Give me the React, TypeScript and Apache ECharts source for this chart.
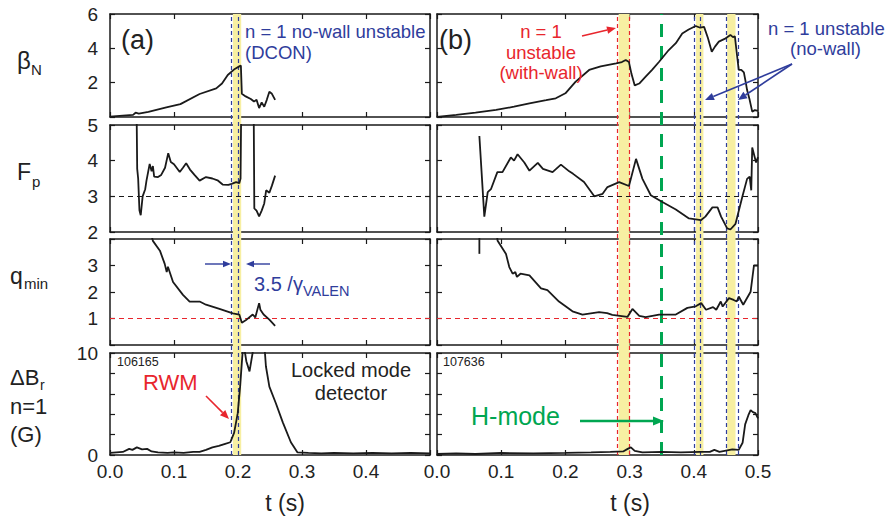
import React, { useEffect, useRef } from "react";
import * as echarts from "echarts";

// ---------- data (t in s, values) ----------
const betaA: number[][] = [[0,0.02],[0.02,0.08],[0.036,0.12],[0.04,0.25],[0.045,0.2],[0.06,0.3],[0.088,0.56],[0.11,0.75],[0.14,1.34],[0.166,1.67],[0.175,1.95],[0.184,2.45],[0.195,2.8],[0.202,2.95],[0.2045,3.0],[0.206,1.35],[0.212,1.2],[0.22,1.05],[0.225,0.9],[0.229,1.0],[0.233,0.52],[0.237,0.85],[0.241,0.6],[0.245,1.0],[0.249,1.47],[0.253,1.35],[0.258,1.0]];
const betaB: number[][] = [[0,0],[0.03,0.12],[0.06,0.25],[0.092,0.41],[0.12,0.6],[0.144,0.8],[0.17,0.98],[0.185,1.09],[0.2,1.38],[0.216,2.06],[0.237,2.74],[0.255,2.95],[0.279,3.13],[0.288,3.2],[0.294,3.32],[0.299,3.2],[0.303,2.5],[0.308,1.84],[0.315,1.95],[0.325,2.35],[0.335,2.75],[0.346,3.22],[0.361,3.9],[0.372,4.3],[0.382,4.87],[0.392,5.1],[0.403,5.3],[0.41,5.2],[0.416,5.25],[0.422,4.6],[0.428,3.8],[0.433,4.1],[0.439,4.39],[0.448,4.55],[0.457,4.78],[0.461,4.65],[0.464,4.7],[0.467,3.7],[0.47,2.74],[0.474,2.75],[0.478,2.6],[0.481,2.0],[0.483,1.57],[0.487,1.0],[0.491,0.31],[0.495,0.4],[0.5,0.35]];
const fpA: number[][] = [[0.0415,5.5],[0.0425,3.77],[0.044,3.5],[0.046,2.61],[0.048,2.47],[0.051,3.0],[0.055,3.2],[0.057,3.44],[0.062,3.91],[0.065,3.7],[0.067,3.85],[0.069,3.55],[0.075,3.54],[0.08,3.6],[0.086,3.8],[0.091,4.21],[0.095,3.96],[0.1,3.9],[0.109,3.68],[0.114,3.8],[0.119,3.93],[0.125,3.75],[0.132,3.6],[0.14,3.44],[0.15,3.54],[0.16,3.5],[0.168,3.45],[0.176,3.33],[0.185,3.32],[0.19,3.35],[0.197,3.4],[0.202,3.37],[0.204,3.5],[0.205,5.5],[0.2245,5.5],[0.2255,2.66],[0.229,2.6],[0.233,2.44],[0.237,2.6],[0.241,2.8],[0.244,3.17],[0.249,3.1],[0.253,3.3],[0.258,3.58]];
const fpB: number[][] = [[0.066,4.69],[0.0737,2.43],[0.079,3.12],[0.084,3.2],[0.094,3.68],[0.102,3.68],[0.115,4.09],[0.12,4.0],[0.1255,4.18],[0.136,3.95],[0.144,3.72],[0.157,3.94],[0.165,3.77],[0.18,3.68],[0.193,3.89],[0.206,3.7],[0.212,3.63],[0.229,3.4],[0.245,3.0],[0.258,3.07],[0.2655,3.26],[0.2837,3.4],[0.299,3.29],[0.31,4.05],[0.32,3.49],[0.333,3.03],[0.351,2.84],[0.372,2.63],[0.3925,2.38],[0.411,2.33],[0.418,2.43],[0.429,2.69],[0.437,2.69],[0.4425,2.43],[0.452,2.1],[0.457,2.07],[0.465,2.23],[0.4755,2.98],[0.483,3.49],[0.487,3.55],[0.4895,3.17],[0.491,4.37],[0.497,3.95],[0.5,4.1]];
const qA: number[][] = [[0.064,4.2],[0.067,3.93],[0.078,3.56],[0.0855,3.06],[0.0886,2.75],[0.0905,2.95],[0.0985,2.38],[0.114,1.89],[0.1244,1.64],[0.14,1.64],[0.15,1.52],[0.171,1.36],[0.192,1.19],[0.202,1.15],[0.206,0.84],[0.212,0.93],[0.223,1.15],[0.227,1.04],[0.233,1.58],[0.235,1.33],[0.24,1.15],[0.249,0.96],[0.258,0.72]];
const qBtick: number[][] = [[0.066,4.2],[0.066,3.44]];
const qB: number[][] = [[0.093,4.2],[0.0944,3.93],[0.1075,3.43],[0.1126,2.94],[0.1178,2.69],[0.122,2.75],[0.1245,2.57],[0.13,2.69],[0.144,2.63],[0.162,2.14],[0.172,2.07],[0.19,1.64],[0.211,1.27],[0.2266,1.15],[0.2525,1.24],[0.265,1.2],[0.273,1.14],[0.2966,1.06],[0.3044,1.36],[0.315,1.1],[0.325,1.05],[0.346,1.15],[0.372,1.15],[0.39,1.4],[0.403,1.46],[0.4115,1.58],[0.419,1.33],[0.43,1.43],[0.435,1.33],[0.442,1.64],[0.445,1.45],[0.4548,1.77],[0.462,1.7],[0.467,1.64],[0.47,1.83],[0.477,1.52],[0.4885,2.01],[0.4937,3.0],[0.5,3.0]];
const dbA: number[][] = [[0,0.2],[0.01,0.25],[0.02,0.3],[0.03,0.6],[0.035,0.5],[0.042,0.75],[0.05,0.55],[0.058,0.6],[0.065,0.35],[0.075,0.25],[0.09,0.2],[0.1,0.25],[0.115,0.2],[0.13,0.3],[0.14,0.3],[0.15,0.5],[0.16,0.75],[0.17,0.9],[0.18,1.1],[0.188,1.25],[0.194,2.2],[0.1996,4.1],[0.2033,6.7],[0.2065,9.5],[0.2085,11],[0.213,9.2],[0.218,8.2],[0.2255,11],[0.241,11],[0.2436,8.7],[0.249,6.7],[0.259,5.1],[0.27,3.2],[0.2826,1.25],[0.293,0.25],[0.31,0.2],[0.33,0.15],[0.35,0.2],[0.38,0.15],[0.41,0.2],[0.44,0.15],[0.47,0.2],[0.5,0.15]];
const dbB: number[][] = [[0,0.1],[0.03,0.15],[0.06,0.1],[0.1,0.2],[0.15,0.15],[0.2,0.2],[0.24,0.25],[0.27,0.3],[0.29,0.35],[0.297,0.6],[0.302,0.75],[0.308,0.4],[0.32,0.25],[0.35,0.3],[0.38,0.25],[0.41,0.3],[0.425,0.3],[0.432,0.5],[0.44,0.3],[0.452,0.45],[0.46,0.55],[0.47,0.5],[0.476,1.2],[0.48,3.0],[0.485,3.9],[0.4885,4.4],[0.492,4.2],[0.496,4.1],[0.5,3.6]];

// band / marker times
const bandA = [0.192, 0.205];
const bandBred = [0.283, 0.3];
const bandBblue1 = [0.4035, 0.415];
const bandBblue2 = [0.452, 0.465];
const hModeT = 0.352;
const fpRef = 3;
const qRef = 1;

const xTicks = [0, 0.5, 0.1];
const yAxesConf = [
  { min: 0, max: 6, interval: 2, show: [2, 4, 6] },
  { min: 2, max: 5, interval: 1, show: [2, 3, 4, 5] },
  { min: 0, max: 4, interval: 1, show: [1, 2, 3] },
  { min: 0, max: 10, interval: 2, show: [0, 10] },
];

const FONT = '"Liberation Sans", Arial, Helvetica, sans-serif';
const BLACK = "#1a1a1a";
const YEL = "#f7efa2";
const BLUE = "#2f3d9c";
const RED = "#e8262d";
const GREEN = "#00a651";

function arrow(x1: number, y1: number, x2: number, y2: number, color: string, w = 1.6, head = 9) {
  const a = Math.atan2(y2 - y1, x2 - x1);
  const bx = x2 - head * Math.cos(a), by = y2 - head * Math.sin(a);
  const hw = head * 0.42;
  const px = -Math.sin(a) * hw, py = Math.cos(a) * hw;
  return [
    { type: "line", z: 20, shape: { x1, y1, x2: bx, y2: by }, style: { stroke: color, lineWidth: w } },
    { type: "polygon", z: 20, shape: { points: [[x2, y2], [bx + px, by + py], [bx - px, by - py]] }, style: { fill: color } },
  ];
}

function txt(x: number, y: number, text: string, size: number, color: string, align = "left") {
  return { type: "text", z: 20, style: { x, y, text, fill: color, font: `${size}px ${FONT}`, textAlign: align, textVerticalAlign: "middle" } };
}

export default function App() {
  const ref = useRef<HTMLDivElement>(null);
  useEffect(() => {
    const chart = echarts.init(ref.current!, null, { renderer: "svg" });
    const rows = [{ top: 14, height: 103 }, { top: 125, height: 107 }, { top: 239, height: 106 }, { top: 353, height: 102 }];
    const cols = [{ left: 110, width: 320 }, { left: 437, width: 321 }];
    const grid: any[] = [];
    const xAxis: any[] = [];
    const yAxis: any[] = [];
    for (let r = 0; r < 4; r++) {
      for (let c = 0; c < 2; c++) {
        const gi = grid.length;
        grid.push({ left: cols[c].left, width: cols[c].width, top: rows[r].top, height: rows[r].height, containLabel: false });
        const axLine = { show: true, onZero: false, lineStyle: { color: BLACK, width: 1.5 } };
        const tick = { show: true, inside: true, length: 5, lineStyle: { color: BLACK, width: 1.2 } };
        for (const pos of ["bottom", "top"]) {
          xAxis.push({
            type: "value", gridIndex: gi, position: pos, min: xTicks[0], max: xTicks[1], interval: xTicks[2],
            axisLine: axLine, axisTick: tick, splitLine: { show: false },
            axisLabel: {
              show: r === 3 && pos === "bottom", margin: 7, color: "#222", fontSize: 19, fontFamily: FONT,
              formatter: (v: number) => (c === 0 && v > 0.45 ? "" : v.toFixed(1)),
            },
          });
        }
        const yc = yAxesConf[r];
        for (const pos of ["left", "right"]) {
          yAxis.push({
            type: "value", gridIndex: gi, position: pos, min: yc.min, max: yc.max, interval: yc.interval,
            axisLine: axLine, axisTick: tick, splitLine: { show: false },
            axisLabel: {
              show: c === 0 && pos === "left", margin: 12, color: "#222", fontSize: 19, fontFamily: FONT,
              formatter: (v: number) => (yc.show.some((s) => Math.abs(s - v) < 1e-6) ? String(v) : ""),
            },
          });
        }
      }
    }
    // overlay grids for bands spanning all rows
    for (let c = 0; c < 2; c++) {
      const gi = grid.length;
      grid.push({ left: cols[c].left, width: cols[c].width, top: 14, height: 441 });
      xAxis.push({ type: "value", gridIndex: gi, min: 0, max: 0.5, show: false });
      yAxis.push({ type: "value", gridIndex: gi, min: 0, max: 1, show: false });
    }

    const line = (gi: number, data: number[][], extra: any = {}) => ({
      type: "line", xAxisIndex: gi * 2, yAxisIndex: gi * 2, data, showSymbol: false, symbol: "none",
      lineStyle: { color: BLACK, width: 1.8 }, z: 5, clip: true, ...extra,
    });
    const hLine = (y: number, color: string) => ({
      symbol: ["none", "none"], silent: true, label: { show: false },
      lineStyle: { color, width: 1.2, type: [5, 4] }, data: [{ yAxis: y }],
    });
    const vmark = (t: number, color: string, width = 1.2, dash = [4, 3]) => ({ xAxis: t, lineStyle: { color, width, type: dash } });

    const series: any[] = [
      {
        type: "line", xAxisIndex: 16, yAxisIndex: 16, data: [], z: 1, silent: true,
        markArea: { silent: true, itemStyle: { color: YEL }, data: [[{ xAxis: bandA[0] }, { xAxis: bandA[1] }]] },
        markLine: { silent: true, symbol: ["none", "none"], label: { show: false }, data: [vmark(bandA[0], BLUE), vmark(bandA[1], BLUE)] },
      },
      {
        type: "line", xAxisIndex: 17, yAxisIndex: 17, data: [], z: 1, silent: true,
        markArea: {
          silent: true, itemStyle: { color: YEL },
          data: [
            [{ xAxis: bandBred[0] }, { xAxis: bandBred[1] }],
            [{ xAxis: bandBblue1[0] }, { xAxis: bandBblue1[1] }],
            [{ xAxis: bandBblue2[0] }, { xAxis: bandBblue2[1] }],
          ],
        },
        markLine: {
          silent: true, symbol: ["none", "none"], label: { show: false },
          data: [
            vmark(bandBred[0], RED), vmark(bandBred[1], RED),
            vmark(bandBblue1[0], BLUE), vmark(bandBblue1[1], BLUE),
            vmark(bandBblue2[0], BLUE), vmark(bandBblue2[1], BLUE),
            vmark(hModeT, GREEN, 3, [13, 9]),
          ],
        },
      },
      line(0, betaA),
      line(1, betaB),
      line(2, fpA, { markLine: hLine(fpRef, BLACK) }),
      line(3, fpB, { markLine: hLine(fpRef, BLACK) }),
      line(4, qA, { markLine: hLine(qRef, RED) }),
      line(5, qBtick),
      line(5, qB, { markLine: hLine(qRef, RED) }),
      line(6, dbA),
      line(7, dbB),
    ];

    const graphic: any[] = [
      // left-side quantity labels
      txt(17, 60, "β", 24, "#222"), txt(31, 69, "N", 15, "#222"),
      txt(17, 172, "F", 23, "#222"), txt(32, 181, "p", 15, "#222"),
      txt(10, 276, "q", 23, "#222"), txt(24, 283, "min", 15, "#222"),
      txt(10, 377, "ΔB", 22, "#222"), txt(40, 385, "r", 14, "#222"),
      txt(10, 406, "n=1", 22, "#222"),
      txt(10, 434, "(G)", 22, "#222"),
      // x-axis titles
      txt(285, 503, "t (s)", 23, "#222", "center"),
      txt(630, 503, "t (s)", 23, "#222", "center"),
      // panel tags
      txt(121, 40, "(a)", 27, "#222"),
      txt(439, 40, "(b)", 27, "#222"),
      // (a) annotations
      txt(254, 284, "3.5 /γ", 20, BLUE),
      txt(303, 291, "VALEN", 14.5, BLUE),
      txt(245, 31, "n = 1 no-wall unstable", 18.5, BLUE),
      txt(245, 52, "(DCON)", 18.5, BLUE),
      ...arrow(205, 264, 231, 264, BLUE, 1.4, 8),
      ...arrow(270, 264, 246, 264, BLUE, 1.4, 8),
      txt(117, 362, "106165", 12.5, "#222"),
      txt(143, 382, "RWM", 22, RED),
      ...arrow(206, 396, 229, 419, RED, 1.6, 9),
      txt(351, 370, "Locked mode", 20, "#222", "center"),
      txt(351, 393, "detector", 20, "#222", "center"),
      // (b) annotations
      txt(541, 31, "n = 1", 18.5, RED, "center"),
      txt(541, 52, "unstable", 18.5, RED, "center"),
      txt(541, 72, "(with-wall)", 18.5, RED, "center"),
      ...arrow(582, 36, 616, 28, RED, 1.6, 9),
      txt(768, 28, "n = 1 unstable", 18.5, BLUE),
      txt(790, 48, "(no-wall)", 18.5, BLUE),
      ...arrow(792, 64, 705, 100, BLUE, 1.6, 9),
      ...arrow(792, 64, 738, 100, BLUE, 1.6, 9),
      txt(443, 362, "107636", 12.5, "#222"),
      txt(471, 416, "H-mode", 25, GREEN),
      ...arrow(580, 421, 664, 421, GREEN, 2.4, 11),
    ];

    chart.setOption({
      animation: false,
      backgroundColor: "#ffffff",
      grid, xAxis, yAxis, series, graphic,
    });
    return () => chart.dispose();
  }, []);
  return <div ref={ref} style={{ position: "absolute", left: 0, top: 0, width: 885, height: 518 }} />;
}
